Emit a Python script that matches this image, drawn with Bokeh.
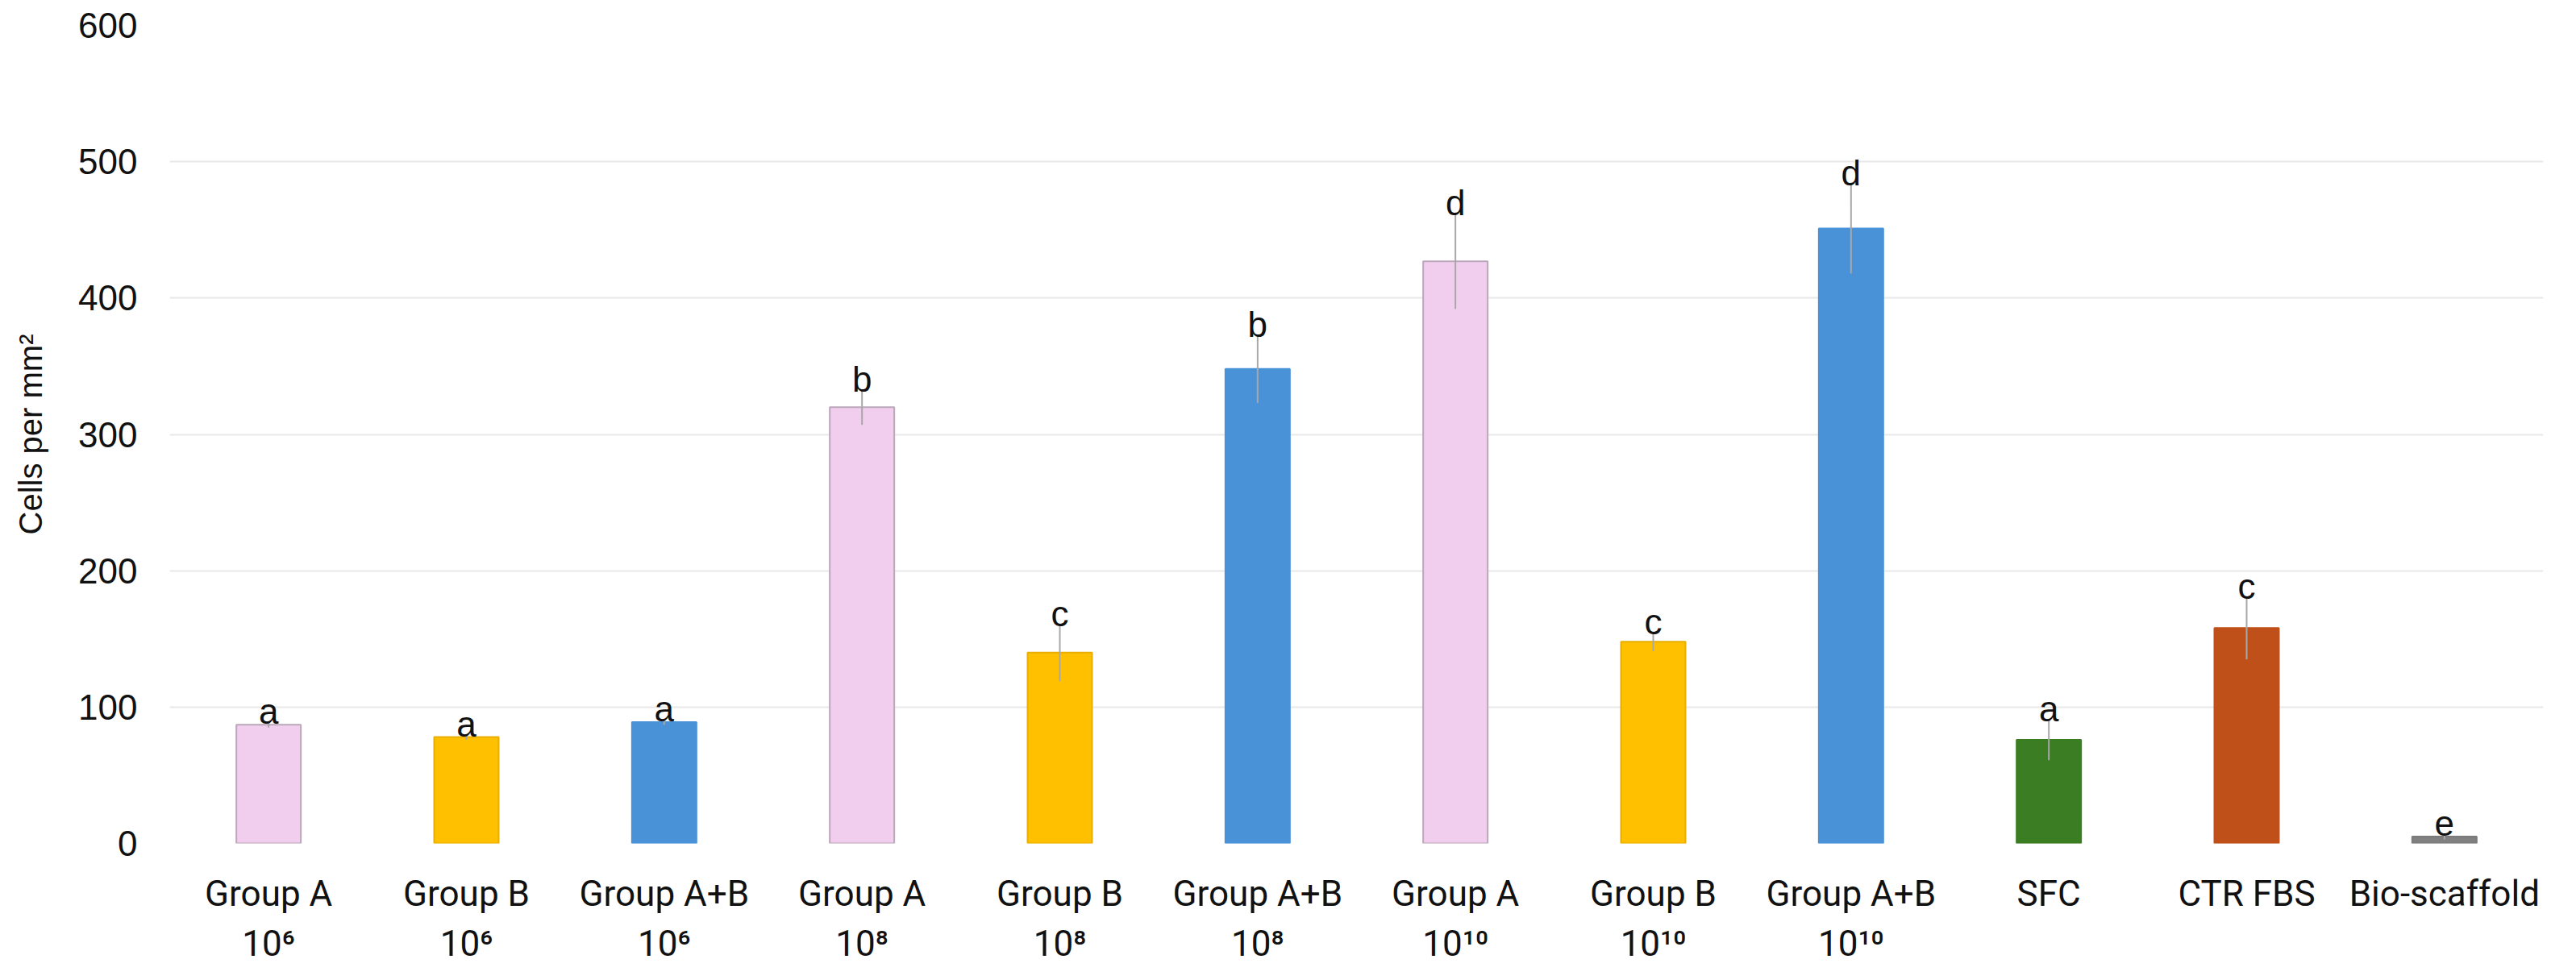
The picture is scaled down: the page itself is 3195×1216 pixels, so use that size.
from bokeh.plotting import figure
from bokeh.models import ColumnDataSource, FactorRange, Range1d, FixedTicker
from bokeh.core.properties import value
from bokeh.embed import file_html
from bokeh.resources import INLINE

# ---- data ----
categories = ["Group A\n10\u2076", "Group B\n10\u2076", "Group A+B\n10\u2076",
              "Group A\n10\u2078", "Group B\n10\u2078", "Group A+B\n10\u2078",
              "Group A\n10\u00b9\u2070", "Group B\n10\u00b9\u2070", "Group A+B\n10\u00b9\u2070",
              "SFC", "CTR FBS", "Bio-scaffold"]
values = [87, 78, 89, 320, 140, 348, 427, 148, 451, 76, 158, 5]
errors = [2, 2, 2, 13, 21, 25, 35, 7, 33, 15, 23, 2]
letters = ["a", "a", "a", "b", "c", "b", "d", "c", "d", "a", "c", "e"]
y_ticks = [0, 100, 200, 300, 400, 500, 600]

# ---- styles ----
PINK, GOLD, BLUE = "#F1CEEE", "#FFC000", "#4A92D8"
fills = [PINK, GOLD, BLUE, PINK, GOLD, BLUE, PINK, GOLD, BLUE, "#3B7D23", "#C0501A", "#808080"]
outlines = ["#BBA6BA", "#E8AE00", "#4A92D8", "#BBA6BA", "#E8AE00", "#4A92D8",
            "#BBA6BA", "#E8AE00", "#4A92D8", "#3B7D23", "#C0501A", "#7A7A7A"]
FONT = "Liberation Sans"
XFONT = "Roboto"

src = ColumnDataSource(dict(
    cat=categories, val=values,
    lower=[v - e for v, e in zip(values, errors)],
    upper=[v + e for v, e in zip(values, errors)],
    letter=letters, fill=fills, outline=outlines,
))

p = figure(x_range=FactorRange(factors=categories, range_padding=0),
           y_range=Range1d(0, 600),
           width=3179, height=1200, output_backend="svg", toolbar_location=None,
           min_border_left=210, min_border_right=25, min_border_top=31, min_border_bottom=154)

p.vbar(x="cat", top="val", width=0.326, source=src, fill_color="fill",
       line_color="outline", line_width=2)
p.segment(x0="cat", y0="lower", x1="cat", y1="upper", source=src,
          line_color="#A8A8A8", line_width=2)
p.text(x="cat", y="upper", text="letter", source=src, text_align="center",
       text_baseline="alphabetic", y_offset=-13, text_font=value(FONT),
       text_font_size="44px", text_color="#111111")

p.outline_line_color = None
p.background_fill_color = "white"
p.xgrid.grid_line_color = None
p.ygrid.grid_line_color = "#E8E8E8"
p.ygrid.grid_line_width = 2
p.yaxis.ticker = FixedTicker(ticks=y_ticks)

for ax in (p.xaxis[0], p.yaxis[0]):
    ax.axis_line_color = None
    ax.major_tick_line_color = None
    ax.minor_tick_line_color = None
    ax.major_tick_in = 0
    ax.major_tick_out = 0
    ax.major_label_text_font = FONT
    ax.major_label_text_font_size = "44px"
    ax.major_label_text_color = "#111111"

p.xaxis.major_label_text_font = XFONT
p.yaxis.major_label_standoff = 40
p.xaxis.major_label_standoff = 36
p.yaxis.axis_label = "Cells per mm\u00b2"
p.yaxis.axis_label_text_font = FONT
p.yaxis.axis_label_text_font_size = "40px"
p.yaxis.axis_label_text_font_style = "normal"
p.yaxis.axis_label_text_color = "#111111"
p.yaxis.axis_label_standoff = 34

open("out.html", "w").write(file_html(p, INLINE))
